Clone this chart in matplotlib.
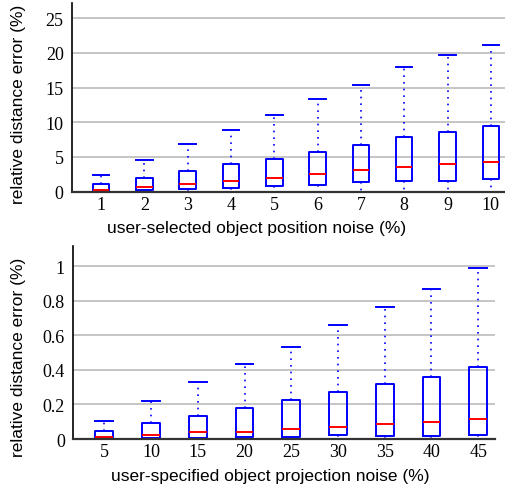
import matplotlib
matplotlib.use("Agg")
import matplotlib.pyplot as plt

# --- data: top panel (position noise %) ---
pos_noise = [1, 2, 3, 4, 5, 6, 7, 8, 9, 10]
pos_whislo = [0, 0, 0, 0, 0, 0, 0, 0, 0, 0]
pos_q1 = [0.05, 0.2, 0.43, 0.53, 0.78, 1.0, 1.35, 1.54, 1.5, 1.83]
pos_med = [0.3, 0.72, 1.15, 1.59, 1.98, 2.6, 3.17, 3.61, 4.0, 4.29]
pos_q3 = [1.07, 1.93, 3.03, 3.95, 4.76, 5.77, 6.78, 7.94, 8.66, 9.52]
pos_whishi = [2.45, 4.62, 6.88, 8.9, 11.1, 13.4, 15.3, 18.0, 19.68, 21.1]

# --- data: bottom panel (projection noise %) ---
proj_noise = [5, 10, 15, 20, 25, 30, 35, 40, 45]
proj_whislo = [0, 0, 0, 0, 0, 0, 0, 0, 0]
proj_q1 = [0.004, 0.008, 0.004, 0.012, 0.012, 0.021, 0.017, 0.017, 0.025]
proj_med = [0.012, 0.025, 0.04, 0.042, 0.06, 0.071, 0.085, 0.1, 0.114]
proj_q3 = [0.048, 0.093, 0.135, 0.178, 0.224, 0.274, 0.317, 0.359, 0.415]
proj_whishi = [0.106, 0.222, 0.332, 0.432, 0.535, 0.662, 0.764, 0.867, 0.99]

top_yticks = [0, 5, 10, 15, 20, 25]
top_yticklabels = ["0", "5", "10", "15", "20", "25"]
bot_yticks = [0, 0.2, 0.4, 0.6, 0.8, 1.0]
bot_yticklabels = ["0", "0.2", "0.4", "0.6", "0.8", "1"]

ylabel = "relative distance error (%)"
top_xlabel = "user-selected object position noise (%)"
bot_xlabel = "user-specified object projection noise (%)"

BLUE = "#0000ff"
RED = "#ff0000"
GRID = "#c0c0c0"
SERIF = "Liberation Serif"
SANS = "Liberation Sans"

fig = plt.figure(figsize=(5.06, 4.89), dpi=100)


def make_stats(xs, lo, q1, med, q3, hi):
    stats = []
    for i in range(len(xs)):
        stats.append(dict(whislo=lo[i], q1=q1[i], med=med[i], q3=q3[i],
                          whishi=hi[i], fliers=[], label=str(xs[i])))
    return stats


def draw(ax, xs, stats, width, xlim, ylim, yticks, yticklabels, xlabel,
         xlab_pos, ylab_pos):
    ax.set_axisbelow(True)
    ax.bxp(stats, positions=xs, widths=width, showfliers=False,
           boxprops=dict(color=BLUE, linewidth=1.4),
           whiskerprops=dict(color=BLUE, linewidth=1.2, linestyle=(0, (1, 3))),
           capprops=dict(color=BLUE, linewidth=1.4),
           medianprops=dict(color=RED, linewidth=1.4),
           capwidths=width, manage_ticks=False)
    ax.set_xlim(*xlim)
    ax.set_ylim(*ylim)
    ax.set_xticks(xs)
    ax.set_xticklabels([str(v) for v in xs], fontfamily=SERIF, fontsize=13)
    ax.set_yticks(yticks)
    ax.set_yticklabels(yticklabels, fontfamily=SERIF, fontsize=13)
    ax.tick_params(axis="x", length=0, pad=3)
    ax.tick_params(axis="y", length=0, pad=6)
    ax.yaxis.grid(True, color=GRID, linewidth=1.3)
    for s in ["top", "right"]:
        ax.spines[s].set_visible(False)
    ax.spines["left"].set_color("black")
    ax.spines["left"].set_linewidth(1.2)
    ax.spines["bottom"].set_color("#333333")
    ax.spines["bottom"].set_linewidth(1.6)
    ax.set_xlabel(xlabel, fontfamily=SANS, fontsize=12.5)
    ax.set_ylabel(ylabel, fontfamily=SANS, fontsize=12.5)
    ax.xaxis.set_label_coords(*xlab_pos)
    ax.yaxis.set_label_coords(*ylab_pos)


ax1 = fig.add_axes([0.1423, 0.606, 0.8577, 0.386])
draw(ax1, pos_noise,
     make_stats(pos_noise, pos_whislo, pos_q1, pos_med, pos_q3, pos_whishi),
     0.38, (0.33, 10.35), (0, 27.2), top_yticks, top_yticklabels, top_xlabel,
     (0.426, -0.15), (-0.106, 0.467))

ax2 = fig.add_axes([0.1449, 0.1002, 0.8334, 0.3953])
draw(ax2, proj_noise,
     make_stats(proj_noise, proj_whislo, proj_q1, proj_med, proj_q3, proj_whishi),
     1.9, (1.68, 46.8), (0, 1.12), bot_yticks, bot_yticklabels, bot_xlabel,
     (0.466, -0.15), (-0.112, 0.426))

fig.savefig("out.png", dpi=100)
